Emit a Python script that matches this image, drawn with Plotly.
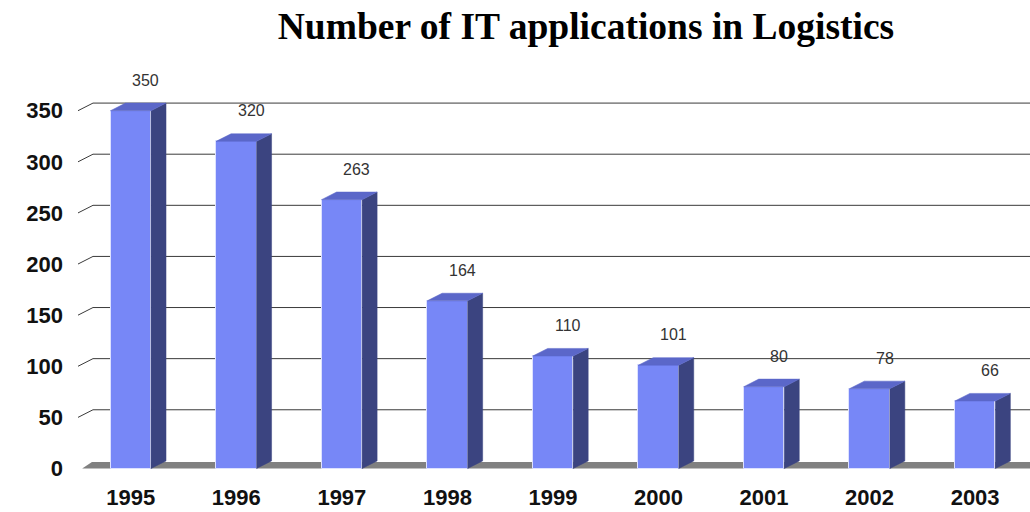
import plotly.graph_objects as go

years = ["1995", "1996", "1997", "1998", "1999", "2000", "2001", "2002", "2003"]
values = [350, 320, 263, 164, 110, 101, 80, 78, 66]
y_ticks = [0, 50, 100, 150, 200, 250, 300, 350]
title_text = "Number of IT applications in Logistics"

# geometry of the pseudo-3D look (in axis units)
BAR_W = 0.384
DX = 0.142   # depth in x (categories)
DY = 7.45    # depth in y (values)
X_MIN, X_MAX = -0.5, 8.52
Y_MIN, Y_MAX = -1.47, 399.6

FRONT = "#7787F7"
TOP = "#5B67C9"
SIDE = "#3B4480"
EDGE = "#DDE1FF"

xs = list(range(len(years)))

fig = go.Figure()

# front faces
fig.add_trace(go.Bar(
    x=xs, y=values, width=BAR_W,
    marker=dict(color=FRONT, line=dict(color=EDGE, width=1)),
    hoverinfo="skip", showlegend=False,
))

# side and top faces
sx, sy = [], []
tx, ty = [], []
for i, v in zip(xs, values):
    xl = i - BAR_W / 2
    xr = i + BAR_W / 2
    sx += [xr, xr + DX, xr + DX, xr, xr, None]
    sy += [0, DY, v + DY, v, 0, None]
    tx += [xl, xl + DX, xr + DX, xr, xl, None]
    ty += [v, v + DY, v + DY, v, v, None]

fig.add_trace(go.Scatter(x=sx, y=sy, mode="lines", fill="toself",
                         fillcolor=SIDE, line=dict(color=SIDE, width=0.5),
                         hoverinfo="skip", showlegend=False))
fig.add_trace(go.Scatter(x=tx, y=ty, mode="lines", fill="toself",
                         fillcolor=TOP, line=dict(color=TOP, width=0.5),
                         hoverinfo="skip", showlegend=False))

shapes = []
# back wall gridlines with the little diagonal wall edge
for t in y_ticks[1:]:
    shapes.append(dict(type="line", xref="x", yref="y", layer="below",
                       x0=X_MIN, y0=t, x1=X_MIN + DX, y1=t + DY,
                       line=dict(color="#3a3a3a", width=1)))
    shapes.append(dict(type="line", xref="x", yref="y", layer="below",
                       x0=X_MIN + DX, y0=t + DY, x1=X_MAX, y1=t + DY,
                       line=dict(color="#3a3a3a", width=1)))
# floor
floor_l = X_MIN + 0.04
shapes.append(dict(type="path", xref="x", yref="y", layer="below",
                   path=f"M {floor_l},0 L {floor_l + DX*0.65},{DY*0.85} L {X_MAX},{DY*0.85} L {X_MAX},0 Z",
                   fillcolor="#808080", line=dict(width=0)))

annotations = []
for i, v in zip(xs, values):
    annotations.append(dict(x=i + DX, y=v + DY, xref="x", yref="y",
                            text=str(v), showarrow=False, yanchor="middle",
                            yshift=23, font=dict(family="Liberation Sans", size=16, color="#333333")))

fig.update_layout(
    width=1030, height=512,
    margin=dict(l=78, r=0, t=60, b=42),
    paper_bgcolor="white", plot_bgcolor="white",
    title=dict(text=f"<b>{title_text}</b>", x=586/1030, xanchor="center",
               y=1 - 26/512, yanchor="middle", yref="container",
               font=dict(family="Liberation Serif", size=37.5, color="black")),
    shapes=shapes, annotations=annotations,
    bargap=0,
    xaxis=dict(range=[X_MIN, X_MAX], tickvals=xs, ticktext=years,
               showgrid=False, zeroline=False, showline=False,
               ticks="", ticklabelstandoff=12,
               tickfont=dict(family="Liberation Sans", size=22, color="#111111", weight="bold")),
    yaxis=dict(range=[Y_MIN, Y_MAX], tickvals=y_ticks, ticktext=[str(t) for t in y_ticks],
               showgrid=False, zeroline=False, showline=False,
               ticks="", ticklabelstandoff=14,
               tickfont=dict(family="Liberation Sans", size=22, color="#111111", weight="bold")),
)

fig.write_html("out.html", config={"displayModeBar": False},
               post_script="document.body.style.margin='0';document.body.style.padding='0';")
